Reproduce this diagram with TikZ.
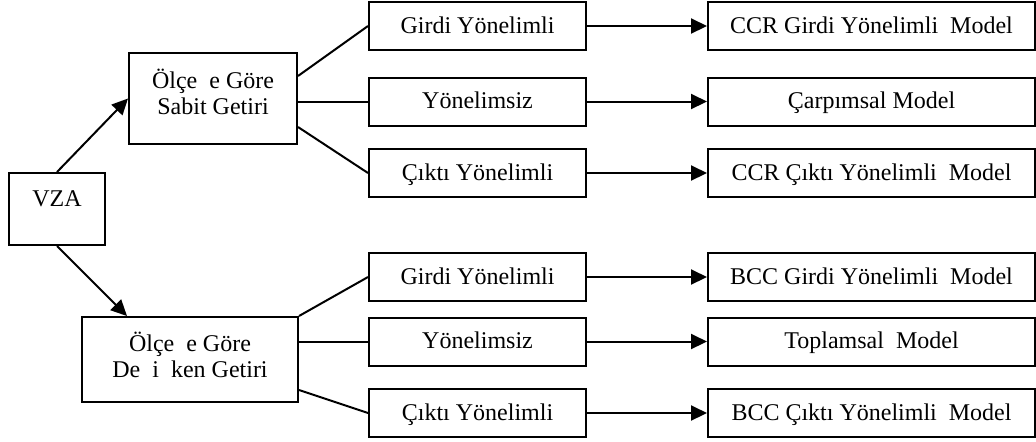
\documentclass[tikz,border=0pt]{standalone}
\usepackage{fontspec}
\setmainfont{Liberation Serif}
\usetikzlibrary{arrows.meta, positioning}

\begin{document}
\begin{tikzpicture}[
    x=0.5pt, y=-0.5pt,
    font=\fontsize{12}{13}\selectfont,
    box/.style={draw, rectangle, line width=1pt, inner sep=0pt, align=center},
    orient/.style={box, minimum width=108.5pt, minimum height=24pt, text height=9pt, text depth=2pt},
    model/.style={box, minimum width=163.5pt, minimum height=24pt, text height=9pt, text depth=2pt},
    arrow/.style={line width=1pt, -{Triangle[length=8pt, width=7.5pt]}},
    link/.style={line width=1pt}
]
\useasboundingbox (0,0) rectangle (1036,441);

% Root
\node[box, minimum width=48pt, minimum height=36pt, text height=8pt, text depth=11pt] (vza) at (57, 209) {VZA};

% Returns to scale
\node[box, minimum width=84pt, minimum height=45.5pt] (crs) at (213, 98.5) {Ölçe\ \ e Göre\\Sabit Getiri\\[-6pt]\mbox{}};
\node[box, minimum width=108pt, minimum height=42.5pt] (vrs) at (190, 359.5) {Ölçe\ \ e Göre\\De\ \ i\ \ ken Getiri\\[-8pt]\mbox{}};

% Orientation, constant returns
\node[orient] (in1) at (477.5, 26) {Girdi Yönelimli};
\node[orient] (no1) at (477.5, 101.5) {Yönelimsiz};
\node[orient] (out1) at (477.5, 173) {Çıktı Yönelimli};

% Orientation, variable returns
\node[orient] (in2) at (477.5, 277) {Girdi Yönelimli};
\node[orient] (no2) at (477.5, 341.5) {Yönelimsiz};
\node[orient] (out2) at (477.5, 413) {Çıktı Yönelimli};

% Models
\node[model, right=60pt of in1] (ccrin) {CCR Girdi Yönelimli\ \ Model};
\node[model, right=60pt of no1] (mult) {Çarpımsal Model};
\node[model, right=60pt of out1] (ccrout) {CCR Çıktı Yönelimli\ \ Model};
\node[model, right=60pt of in2] (bccin) {BCC Girdi Yönelimli\ \ Model};
\node[model, right=60pt of no2] (add) {Toplamsal\ \ Model};
\node[model, right=60pt of out2] (bccout) {BCC Çıktı Yönelimli\ \ Model};

% Connectors
\draw[arrow] (vza.north) -- (crs.west);
\draw[arrow] (vza.south) -- ([xshift=23pt]vrs.north west);

\draw[link] ([yshift=-12pt]crs.north east) -- (in1.west);
\draw[link] (crs.east |- no1.west) -- (no1.west);
\draw[link] ([yshift=9pt]crs.south east) -- (out1.west);
\draw[link] (vrs.north east) -- (in2.west);
\draw[link] (vrs.east |- no2.west) -- (no2.west);
\draw[link] ([yshift=6.5pt]vrs.south east) -- (out2.west);

\draw[arrow] (in1) -- (ccrin);
\draw[arrow] (no1) -- (mult);
\draw[arrow] (out1) -- (ccrout);
\draw[arrow] (in2) -- (bccin);
\draw[arrow] (no2) -- (add);
\draw[arrow] (out2) -- (bccout);

\end{tikzpicture}
\end{document}
